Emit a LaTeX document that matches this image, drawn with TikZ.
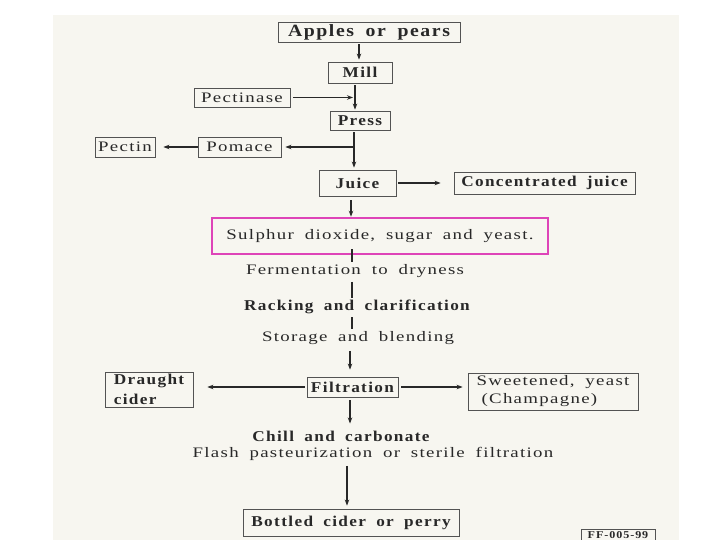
\documentclass[tikz,border=0pt]{standalone}
\usepackage{fontspec}
\setmainfont{Liberation Serif}[FakeStretch=1.3,LetterSpace=9,WordSpace=1.8,BoldFeatures={FakeStretch=1.15}]
\usetikzlibrary{arrows.meta}
\definecolor{pagebg}{RGB}{247,246,240}
\definecolor{ink}{RGB}{40,40,40}
\definecolor{hl}{RGB}{222,68,184}
\begin{document}
\begin{tikzpicture}[x=1pt,y=-1pt,
  txt/.style={inner sep=0pt, text=ink, font=\fontsize{14.5}{16}\selectfont},
  bf/.style={font=\fontsize{15}{16}\selectfont\bfseries},
  box/.style={txt, draw=ink!80, line width=0.8pt},
  arr/.style={draw=ink, line width=1.1pt, -{Stealth[length=6pt,width=4.5pt]}},
  ln/.style={draw=ink, line width=1.1pt}]
\useasboundingbox (0,0) rectangle (720,540);
\fill[white] (0,0) rectangle (720,540);
\fill[pagebg] (53,15) rectangle (679,540);

% nodes
\node[box, font=\fontsize{17.2}{17}\selectfont\bfseries, minimum width=182pt, minimum height=20pt] (apples) at (369,32) {Apples or pears};
\node[box, bf, minimum width=64pt, minimum height=21pt] (mill) at (360,72.5) {Mill};
\node[box, minimum width=96pt, minimum height=19pt] (pectinase) at (242,97.5) {Pectinase};
\node[box, bf, minimum width=60pt, minimum height=19pt] (press) at (360,120.5) {Press};
\node[box, minimum width=83pt, minimum height=20pt] (pomace) at (239.5,147) {Pomace};
\node[box, minimum width=60pt, minimum height=20pt] (pectin) at (125,147) {Pectin};
\node[box, bf, minimum width=77pt, minimum height=26pt] (juice) at (357.5,183) {Juice};
\node[box, bf, minimum width=181pt, minimum height=22pt] (conc) at (544.5,183) {Concentrated juice};
\node[txt, draw=hl, line width=2.6pt, minimum width=336pt, minimum height=36pt] (pink) at (380,236) {Sulphur dioxide, sugar and yeast.};
\node[txt] (ferm) at (355,271) {Fermentation to dryness};
\node[txt, bf] (rack) at (357,307) {Racking and clarification};
\node[txt] (stor) at (358,338) {Storage and blending};
\node[box, bf, minimum width=91pt, minimum height=20pt] (filt) at (352.5,387) {Filtration};
\node[box, font=\fontsize{15}{20}\selectfont\bfseries, align=left, minimum width=88pt, minimum height=35pt] (draught) at (149,389.5) {Draught\\cider};
\node[box, font=\fontsize{14.5}{18}\selectfont, align=left, minimum width=170pt, minimum height=37pt] (sweet) at (553,391.5) {Sweetened, yeast\\\hspace*{5pt}(Champagne)};
\node[txt, bf] (chill) at (341,436) {Chill and carbonate};
\node[txt] (flash) at (373,454) {Flash pasteurization or sterile filtration};
\node[box, bf, minimum width=216pt, minimum height=27pt] (bottled) at (351,522.5) {Bottled cider or perry};
\node[box, font=\fontsize{10.5}{10}\selectfont\bfseries, minimum width=74pt, minimum height=12pt] (ff) at (618,535) {FF-005-99};

% connectors
\draw[arr, shorten <=2pt, shorten >=2pt] ([xshift=-10pt]apples.south) -- ([xshift=-1pt]mill.north);
\coordinate (tk1) at ([xshift=-5pt]mill.south);
\draw[arr, shorten <=2pt, shorten >=1pt] (tk1) -- ([xshift=-5pt]press.north);
\draw[arr, shorten <=3pt, shorten >=2pt] (pectinase.east) -- (pectinase.east -| tk1);
\coordinate (tk2) at ([xshift=-6pt]press.south);
\draw[arr, shorten <=2pt, shorten >=2pt] (tk2) -- ([xshift=-3.5pt]juice.north);
\coordinate (br) at (pomace.east -| tk2);
\draw[arr, shorten >=4pt] (br) -- (pomace.east);
\draw[arr, shorten >=8pt] (pomace.west) -- (pectin.east);
\draw[arr, shorten <=2pt, shorten >=13pt] (juice.east) -- (conc.west);
\draw[arr, shorten <=4pt] ([xshift=-6.5pt]juice.south) -- ([xshift=-29pt]pink.north);
\draw[ln, shorten >=2pt] ([xshift=-28pt,yshift=6pt]pink.south) -- ([xshift=-3pt]ferm.north);
\draw[ln, shorten <=4pt, shorten >=2pt] ([xshift=-3pt]ferm.south) -- ([xshift=-5pt]rack.north);
\draw[ln, shorten <=3pt, shorten >=2pt] ([xshift=-5pt]rack.south) -- ([xshift=-6pt]stor.north);
\draw[arr, shorten <=6pt, shorten >=7pt] ([xshift=-8pt]stor.south) -- ([xshift=-2.5pt]filt.north);
\draw[arr, shorten <=2pt, shorten >=14pt] (filt.west) -- (filt.west -| draught.east);
\draw[arr, shorten <=3pt, shorten >=5pt] (filt.east) -- (filt.east -| sweet.west);
\draw[arr, shorten <=3pt, shorten >=7pt] ([xshift=-2.5pt]filt.south) -- ([xshift=9pt]chill.north);
\draw[arr, shorten <=5pt, shorten >=3pt] ([xshift=-26pt]flash.south) -- ([xshift=-4pt]bottled.north);
\end{tikzpicture}
\end{document}
